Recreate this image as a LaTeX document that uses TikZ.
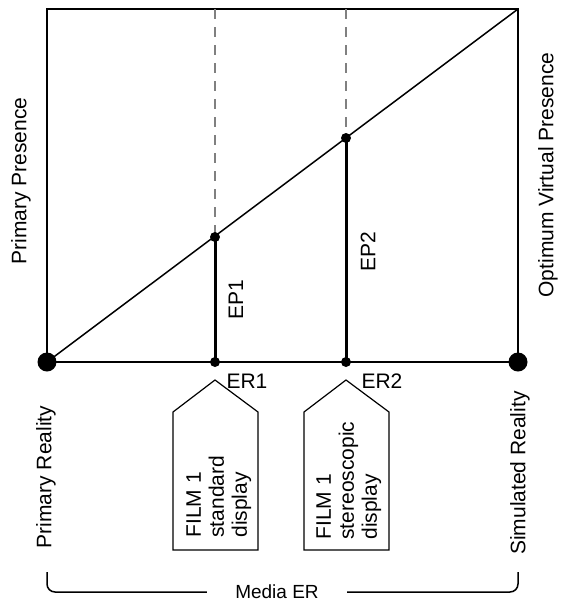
\documentclass[tikz,border=0pt]{standalone}
\usepackage{fontspec}
\setmainfont{Liberation Sans}
\usetikzlibrary{positioning}

\begin{document}
\begin{tikzpicture}[
    x               = 0.5pt, y = -0.5pt,
    frame/.style    = {draw, line width=0.75pt},
    bigdot/.style   = {circle, fill, inner sep=0pt, minimum size=9.5pt},
    smalldot/.style = {circle, fill, inner sep=0pt, minimum size=5pt},
    guide/.style    = {draw=gray, line width=0.85pt, dash pattern=on 5pt off 4pt},
    ep/.style       = {line width=1.5pt},
    lbl/.style      = {font=\fontsize{10.5}{12.5}\selectfont, inner sep=0pt},
    vlbl/.style     = {lbl, rotate=90},
    film/.style     = {draw, line width=0.6pt},
    filmtext/.style = {vlbl, font=\fontsize{10.5}{11.5}\selectfont,
                       align=left, anchor=north west},
    bracket/.style  = {draw, line width=0.75pt, rounded corners=4pt}
]
\useasboundingbox (0,0) rectangle (561,601);

% corners and points on the diagonal
\coordinate (tl)  at (47,9);
\coordinate (tr)  at (518,9);
\coordinate (bl)  at (47,362);
\coordinate (br)  at (518,362);
\coordinate (top1) at (215,9);
\coordinate (top2) at (346,9);
\coordinate (ep1) at (215,237);
\coordinate (ep2) at (346,138);
\coordinate (er1) at (215,362);
\coordinate (er2) at (346,362);

\draw[frame] (bl) -- (tl) -- (tr) -- (br) -- cycle;
\draw[frame] (bl) -- (tr);
\draw[guide] (top1) -- (ep1);
\draw[guide] (top2) -- (ep2);
\draw[ep] (ep1) -- (er1);
\draw[ep] (ep2) -- (er2);

\node[bigdot]   (pr)  at (bl)  {};
\node[bigdot]   (sr)  at (br)  {};
\node[smalldot] (ep1dot) at (ep1) {};
\node[smalldot] (ep2dot) at (ep2) {};
\node[smalldot] (er1dot) at (er1) {};
\node[smalldot] (er2dot) at (er2) {};

% axis labels
\node[vlbl] (ppres) at (21,181)  {Primary Presence};
\node[vlbl] (ovpres) at (548,175) {Optimum Virtual Presence};
\node[vlbl] (preal) at (46,477)  {Primary Reality};
\node[vlbl] (sreal) at (520,473) {Simulated Reality};
\node[vlbl] (ep1lbl) at (236,300) {EP1};
\node[vlbl] (ep2lbl) at (368,252) {EP2};
\node[lbl]  (er1lbl) at (247,381) {ER1};
\node[lbl]  (er2lbl) at (382,381) {ER2};

% film tags
\draw[film] (173,550) -- (173,412) -- (215,380) -- (258,412) -- (258,550) -- cycle;
\draw[film] (304,550) -- (304,412) -- (346,380) -- (389,412) -- (389,550) -- cycle;
\node[filmtext] (film1) at (186,538) {FILM 1\\standard\\display};
\node[filmtext] (film2) at (316,540) {FILM 1\\stereoscopic\\display};

% media ER bracket
\node[lbl, font=\fontsize{9.5}{11}\selectfont, inner xsep=14pt] (media) at (277,592) {Media ER};
\draw[bracket] (media.west) -| (47,572);
\draw[bracket] (media.east) -| (518,572);
\end{tikzpicture}
\end{document}
